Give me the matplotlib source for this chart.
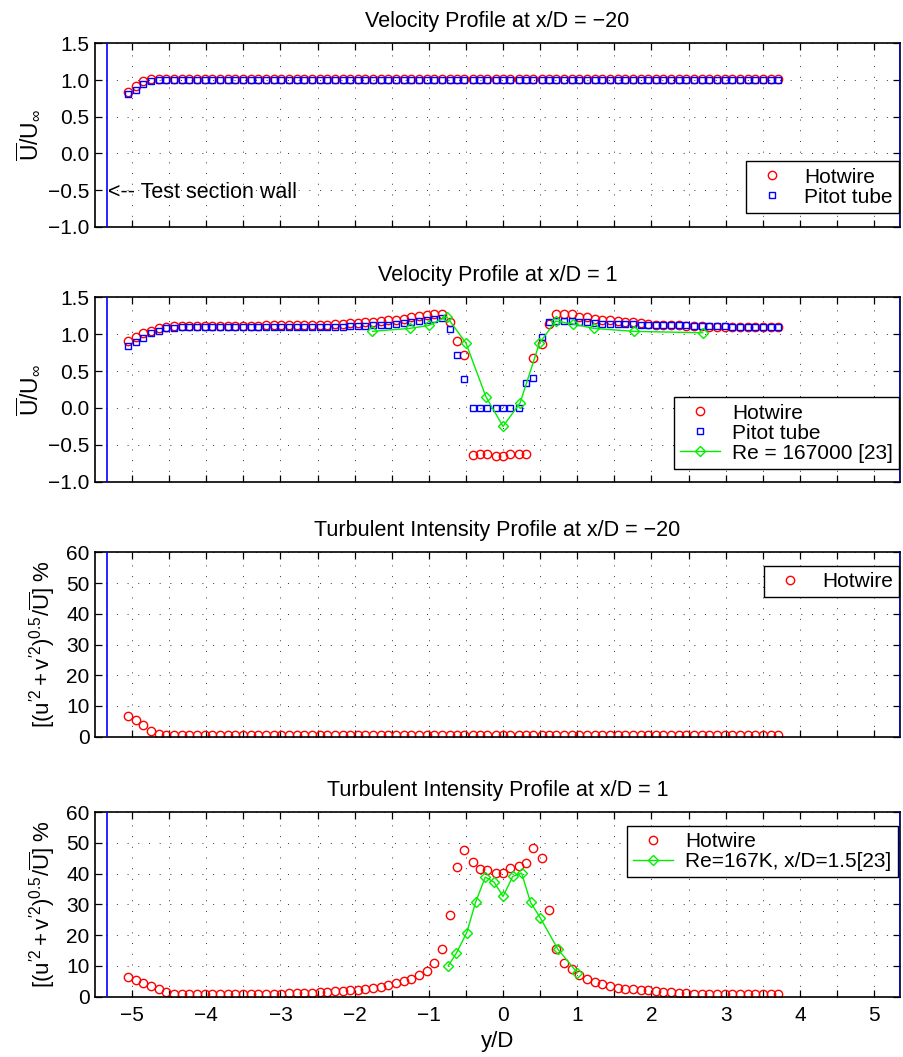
import numpy as np
import matplotlib
matplotlib.use("Agg")
import matplotlib.pyplot as plt

plt.rcParams['font.family'] = ['Liberation Sans', 'DejaVu Sans']
plt.rcParams['mathtext.fontset'] = 'custom'
plt.rcParams['mathtext.rm'] = 'Liberation Sans'
plt.rcParams['mathtext.it'] = 'Liberation Sans:italic'
plt.rcParams['mathtext.bf'] = 'Liberation Sans:bold'

# measurement stations y/D (hotwire and pitot share them)
yd = [-5.05, -4.95, -4.85, -4.74, -4.64, -4.54, -4.43, -4.33, -4.23, -4.12,
      -4.02, -3.92, -3.81, -3.71, -3.61, -3.51, -3.40, -3.30, -3.20, -3.09,
      -2.99, -2.89, -2.78, -2.68, -2.58, -2.47, -2.37, -2.27, -2.16, -2.06,
      -1.96, -1.86, -1.75, -1.65, -1.55, -1.44, -1.34, -1.24, -1.13, -1.03,
      -0.93, -0.82, -0.72, -0.62, -0.52, -0.41, -0.31, -0.21, -0.10, 0.00,
      0.10, 0.21, 0.31, 0.41, 0.52, 0.62, 0.72, 0.82, 0.93, 1.03,
      1.13, 1.24, 1.34, 1.44, 1.55, 1.65, 1.75, 1.86, 1.96, 2.06,
      2.16, 2.27, 2.37, 2.47, 2.58, 2.68, 2.78, 2.89, 2.99, 3.09,
      3.20, 3.30, 3.40, 3.51, 3.61, 3.71]

# x/D = -20, mean velocity
u_hw_m20 = [0.84, 0.92, 0.98, 1.01, 1.01, 1.01, 1.01, 1.01, 1.01, 1.01,
            1.01, 1.01, 1.01, 1.01, 1.01, 1.01, 1.01, 1.01, 1.01, 1.01,
            1.01, 1.01, 1.01, 1.01, 1.01, 1.01, 1.01, 1.01, 1.01, 1.01,
            1.01, 1.01, 1.01, 1.01, 1.01, 1.01, 1.01, 1.01, 1.01, 1.01,
            1.01, 1.01, 1.01, 1.01, 1.01, 1.01, 1.01, 1.01, 1.01, 1.01,
            1.01, 1.01, 1.01, 1.01, 1.01, 1.01, 1.01, 1.01, 1.01, 1.01,
            1.01, 1.01, 1.01, 1.01, 1.01, 1.01, 1.01, 1.01, 1.01, 1.01,
            1.01, 1.01, 1.01, 1.01, 1.01, 1.01, 1.01, 1.01, 1.01, 1.01,
            1.01, 1.01, 1.01, 1.01, 1.01, 1.01]
u_pt_m20 = [0.81, 0.87, 0.95, 0.99, 1.00, 1.00, 1.00, 1.00, 1.00, 1.00,
            1.00, 1.00, 1.00, 1.00, 1.00, 1.00, 1.00, 1.00, 1.00, 1.00,
            1.00, 1.00, 1.00, 1.00, 1.00, 1.00, 1.00, 1.00, 1.00, 1.00,
            1.00, 1.00, 1.00, 1.00, 1.00, 1.00, 1.00, 1.00, 1.00, 1.00,
            1.00, 1.00, 1.00, 1.00, 1.00, 1.00, 1.00, 1.00, 1.00, 1.00,
            1.00, 1.00, 1.00, 1.00, 1.00, 1.00, 1.00, 1.00, 1.00, 1.00,
            1.00, 1.00, 1.00, 1.00, 1.00, 1.00, 1.00, 1.00, 1.00, 1.00,
            1.00, 1.00, 1.00, 1.00, 1.00, 1.00, 1.00, 1.00, 1.00, 1.00,
            1.00, 1.00, 1.00, 1.00, 1.00, 1.00]

# x/D = 1, mean velocity
u_hw_1 = [0.91, 0.96, 1.02, 1.05, 1.08, 1.10, 1.11, 1.11, 1.11, 1.11,
          1.11, 1.11, 1.11, 1.11, 1.11, 1.11, 1.11, 1.11, 1.12, 1.12,
          1.12, 1.12, 1.12, 1.12, 1.12, 1.13, 1.13, 1.14, 1.14, 1.15,
          1.15, 1.16, 1.17, 1.18, 1.19, 1.20, 1.21, 1.23, 1.25, 1.26,
          1.27, 1.27, 1.16, 0.91, 0.72, -0.64, -0.62, -0.63, -0.65, -0.65,
          -0.63, -0.62, -0.63, 0.68, 0.87, 1.14, 1.27, 1.28, 1.27, 1.24,
          1.23, 1.21, 1.20, 1.19, 1.18, 1.17, 1.16, 1.15, 1.14, 1.13,
          1.13, 1.12, 1.12, 1.11, 1.11, 1.11, 1.10, 1.10, 1.10, 1.10,
          1.10, 1.10, 1.10, 1.10, 1.10, 1.10]
u_pt_1 = [0.84, 0.89, 0.95, 1.02, 1.05, 1.08, 1.09, 1.10, 1.10, 1.10,
          1.10, 1.10, 1.10, 1.10, 1.10, 1.10, 1.10, 1.10, 1.10, 1.10,
          1.10, 1.10, 1.10, 1.10, 1.10, 1.10, 1.10, 1.10, 1.10, 1.11,
          1.11, 1.11, 1.12, 1.13, 1.13, 1.14, 1.15, 1.16, 1.18, 1.19,
          1.21, 1.22, 1.07, 0.72, 0.40, 0.00, 0.00, 0.00, 0.00, 0.00,
          0.00, 0.00, 0.34, 0.41, 0.96, 1.16, 1.18, 1.18, 1.18, 1.16,
          1.16, 1.15, 1.14, 1.14, 1.14, 1.14, 1.14, 1.13, 1.13, 1.13,
          1.12, 1.12, 1.12, 1.12, 1.11, 1.11, 1.11, 1.11, 1.11, 1.10,
          1.10, 1.10, 1.10, 1.10, 1.10, 1.10]
ref_u_x = [-1.76, -1.26, -1.00, -0.76, -0.50, -0.23, 0.00, 0.23, 0.49, 0.71,
           0.94, 1.22, 1.76, 2.69]
ref_u = [1.04, 1.08, 1.12, 1.24, 0.88, 0.15, -0.25, 0.07, 0.88, 1.18,
         1.14, 1.08, 1.04, 1.02]

# x/D = -20, turbulent intensity
ti_hw_m20 = [6.9, 5.4, 3.8, 2.0, 0.8, 0.6, 0.6, 0.6, 0.6, 0.6,
             0.6, 0.6, 0.6, 0.6, 0.6, 0.6, 0.6, 0.6, 0.6, 0.6,
             0.6, 0.6, 0.6, 0.6, 0.6, 0.6, 0.6, 0.6, 0.6, 0.6,
             0.6, 0.6, 0.6, 0.6, 0.6, 0.6, 0.6, 0.6, 0.6, 0.6,
             0.6, 0.6, 0.6, 0.6, 0.6, 0.6, 0.6, 0.6, 0.6, 0.6,
             0.6, 0.6, 0.6, 0.6, 0.6, 0.6, 0.6, 0.6, 0.6, 0.6,
             0.6, 0.6, 0.6, 0.6, 0.6, 0.6, 0.6, 0.6, 0.6, 0.6,
             0.6, 0.6, 0.6, 0.6, 0.6, 0.6, 0.6, 0.6, 0.6, 0.6,
             0.6, 0.6, 0.6, 0.6, 0.6, 0.6]

# x/D = 1, turbulent intensity
ti_hw_1 = [6.5, 5.4, 4.6, 3.6, 2.4, 1.4, 0.9, 0.8, 0.8, 0.8,
           0.8, 0.8, 0.8, 0.8, 0.8, 0.8, 0.8, 0.8, 0.8, 0.8,
           1.0, 1.05, 1.1, 1.2, 1.3, 1.4, 1.55, 1.7, 1.85, 2.05,
           2.3, 2.55, 2.85, 3.2, 3.7, 4.3, 5.0, 5.8, 6.9, 8.5,
           10.9, 15.5, 26.6, 42.1, 47.7, 43.7, 41.5, 41.2, 40.2, 40.2,
           41.8, 42.5, 43.6, 48.5, 45.0, 28.2, 15.4, 10.9, 8.9, 7.1,
           5.7, 4.8, 4.0, 3.5, 2.9, 2.6, 2.4, 2.2, 2.0, 1.75,
           1.5, 1.4, 1.3, 1.1, 1.0, 0.9, 0.9, 0.9, 0.8, 0.8,
           0.8, 0.8, 0.8, 0.8, 0.7, 0.7]
ref_ti_x = [-0.74, -0.63, -0.49, -0.37, -0.24, -0.12, 0.00, 0.13, 0.25, 0.37,
            0.50, 0.74, 1.00]
ref_ti = [10.0, 14.1, 20.8, 30.7, 38.9, 37.2, 32.6, 39.1, 40.2, 30.7,
          25.7, 15.4, 7.8]

wall = 5.345
xticks = [-5, -4.5, -4, -3.5, -3, -2.5, -2, -1.5, -1, -0.5, 0,
          0.5, 1, 1.5, 2, 2.5, 3, 3.5, 4, 4.5, 5]
xlabels = ['−5', '', '−4', '', '−3', '', '−2', '', '−1', '', '0',
           '', '1', '', '2', '', '3', '', '4', '', '5']

fig = plt.figure(figsize=(9.04, 10.57), dpi=100)
L, W = 95 / 904, 805 / 904
boxes = [(0.7855, 0.1735), (0.5443, 0.1743), (0.3030, 0.1745), (0.0571, 0.1745)]
axs = [fig.add_axes([L, b, W, h]) for b, h in boxes]

hw = dict(ls='none', marker='o', ms=6.0, mfc='none', mec='red', mew=1.0)
pt = dict(ls='none', marker='s', ms=4.8, mfc='none', mec='blue', mew=1.0)
rf = dict(color='#00ee00', lw=1.0, marker='D', ms=4.6, mfc='none', mec='#00ee00', mew=1.0)
leg_kw = dict(fontsize=15, fancybox=False, framealpha=1, edgecolor='black',
              handlelength=1.9, handletextpad=0.6, borderpad=0.3,
              labelspacing=0.05, borderaxespad=0)
tfs = 15.5

ax = axs[0]
ax.plot(yd, u_hw_m20, label='Hotwire', **hw)
ax.plot(yd, u_pt_m20, label='Pitot tube', **pt)
ax.text(-5.33, -0.53, '<-- Test section wall', fontsize=15.5, va='center')
ax.set_title('Velocity Profile at x/D = −20', fontsize=tfs, pad=12)
ax.legend(loc='lower right', bbox_to_anchor=(0.999, 0.075), **leg_kw)

ax = axs[1]
ax.plot(yd, u_hw_1, label='Hotwire', **hw)
ax.plot(yd, u_pt_1, label='Pitot tube', **pt)
ax.plot(ref_u_x, ref_u, label='Re = 167000 [23]', **rf)
ax.set_title('Velocity Profile at x/D = 1', fontsize=tfs, pad=12)
ax.legend(loc='lower right', bbox_to_anchor=(0.999, 0.069), **leg_kw)

ax = axs[2]
ax.plot(yd, ti_hw_m20, label='Hotwire', **hw)
ax.set_title('Turbulent Intensity Profile at x/D = −20', fontsize=tfs, pad=12)
ax.legend(loc='upper right', bbox_to_anchor=(0.999, 0.926), **leg_kw)

ax = axs[3]
ax.plot(yd, ti_hw_1, label='Hotwire', **hw)
ax.plot(ref_ti_x, ref_ti, label='Re=167K, x/D=1.5[23]', **rf)
ax.set_title('Turbulent Intensity Profile at x/D = 1', fontsize=tfs, pad=12)
ax.legend(loc='upper right', bbox_to_anchor=(0.997, 0.926), **leg_kw)
ax.set_xlabel('y/D', fontsize=16, labelpad=4)

ulab = r'$\overline{\mathrm{U}}/\mathrm{U}_{\infty}$'
tlab = r"$[(\mathrm{u}^{\prime 2} + \mathrm{v}^{\prime 2})^{0.5}/\overline{\mathrm{U}}]$ %"

for i, ax in enumerate(axs):
    for xw in (-wall, wall):
        ax.axvline(xw, color='blue', lw=1.2, zorder=3)
    ax.set_xlim(-5.5, 5.35)
    ax.set_xticks(xticks)
    ax.set_xticklabels(xlabels if i == 3 else [''] * len(xticks))
    if i < 2:
        ax.set_ylim(-1.0, 1.5)
        yt = [-1.0, -0.5, 0.0, 0.5, 1.0, 1.5]
        ax.set_yticks(yt)
        ax.set_yticklabels(['%.1f' % v if v >= 0 else '−%.1f' % -v for v in yt])
        ax.set_ylabel(ulab, fontsize=16.5)
        ax.yaxis.set_label_coords(-0.066, 0.5)
    else:
        ax.set_ylim(0, 60)
        ax.set_yticks([0, 10, 20, 30, 40, 50, 60])
        ax.set_ylabel(tlab, fontsize=16)
        ax.yaxis.set_label_coords(-0.047, 0.5)
    ax.grid(True, color='0.2', lw=0.7, ls=(0, (1, 10)))
    ax.tick_params(direction='in', length=5, width=0.9, top=True, right=True,
                   labelsize=15, pad=4)
    ax.tick_params(axis='x', pad=7)
    for s in ax.spines.values():
        s.set_linewidth(1.2)

fig.savefig('out.png', dpi=100)
